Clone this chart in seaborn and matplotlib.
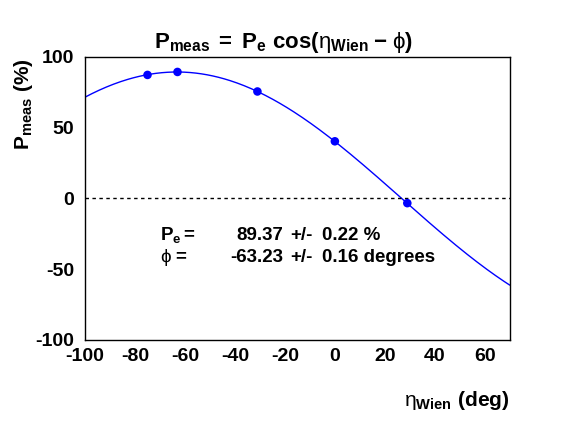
import numpy as np
import pandas as pd
import matplotlib
matplotlib.use("Agg")
import matplotlib.pyplot as plt
import seaborn as sns
from matplotlib.ticker import MultipleLocator

# olculen noktalar
eta_wien = [-75, -63, -31, 0, 29]
p_meas = [87.3, 89.4, 75.6, 40.4, -3.3]

# fit sonuclari
pe, pe_err = 89.37, 0.22
phi, phi_err = -63.23, 0.16

sns.set_theme(style="white")
plt.rcParams["font.family"] = ["Liberation Sans", "DejaVu Sans"]
plt.rcParams["font.weight"] = "bold"
plt.rcParams["text.color"] = "black"
plt.rcParams["xtick.color"] = "black"
plt.rcParams["ytick.color"] = "black"
plt.rcParams["axes.unicode_minus"] = False
plt.rcParams["mathtext.fontset"] = "custom"
plt.rcParams["mathtext.rm"] = "Liberation Sans:weight=normal"
plt.rcParams["mathtext.bf"] = "Liberation Sans:weight=bold"
plt.rcParams["mathtext.it"] = "Liberation Sans:weight=bold"
plt.rcParams["mathtext.default"] = "bf"

fig = plt.figure(figsize=(5.67, 4.25), dpi=100)
ax = fig.add_axes([0.150, 0.200, 0.749, 0.666])

# fit egrisi
eta = np.linspace(-100, 70, 300)
df_fit = pd.DataFrame({"eta": eta, "p": pe * np.cos(np.radians(eta - phi))})
sns.lineplot(data=df_fit, x="eta", y="p", color="#0000ff", lw=1, ax=ax)
ax.axhline(0, color="black", lw=1, ls=(0, (2.5, 2.5)))
sns.scatterplot(x=eta_wien, y=p_meas, color="#0000ff", s=38, edgecolor="none", ax=ax, zorder=3)

ax.set_xlim(-100, 70)
ax.set_ylim(-100, 100)
ax.xaxis.set_major_locator(MultipleLocator(20))
ax.xaxis.set_minor_locator(MultipleLocator(10))
ax.yaxis.set_major_locator(MultipleLocator(50))
ax.yaxis.set_minor_locator(MultipleLocator(10))
ax.tick_params(which="both", direction="in", color="black", width=1)
ax.tick_params(which="major", length=6, labelsize=14)
ax.tick_params(which="minor", length=3)
ax.tick_params(axis="x", pad=6)
ax.tick_params(axis="y", pad=8)
for lab in ax.get_xticklabels() + ax.get_yticklabels():
    lab.set_fontweight("bold")
for s in ax.spines.values():
    s.set_color("black")
    s.set_linewidth(1)
ax.set_xlabel("")
ax.set_ylabel("")

fig.text(0.5, 1 - 48 / 425, r"$P_{meas}\;{=}\;P_e\ cos(\mathrm{\eta}_{Wien}\;{-}\;\mathrm{\phi})$",
         ha="center", va="baseline", fontsize=16)
fig.text(12 / 567, 1 - 58 / 425, r"$P_{meas}\ (\%)$", rotation=90,
         ha="left", va="top", fontsize=15)
fig.text(510 / 567, 1 - 406 / 425, r"$\mathrm{\eta}_{Wien}\ (deg)$",
         ha="right", va="baseline", fontsize=15)

# istatistik kutusu
y1, y2 = 1 - 240 / 425, 1 - 262 / 425
fs = 13.5
fig.text(160 / 567, y1, r"$P_e =$", fontsize=fs, va="baseline")
fig.text(160 / 567, y2, r"$\mathrm{\phi}$ =", fontsize=fs, va="baseline")
fig.text(283 / 567, y1, f"{pe:.2f}", fontsize=fs, ha="right", va="baseline")
fig.text(283 / 567, y2, f"{phi:.2f}", fontsize=fs, ha="right", va="baseline")
fig.text(290 / 567, y1, "+/-", fontsize=fs, va="baseline")
fig.text(290 / 567, y2, "+/-", fontsize=fs, va="baseline")
fig.text(322 / 567, y1, f"{pe_err:.2f} %", fontsize=fs, va="baseline")
fig.text(322 / 567, y2, f"{phi_err:.2f} degrees", fontsize=fs, va="baseline")

fig.savefig("out.png", dpi=100)
